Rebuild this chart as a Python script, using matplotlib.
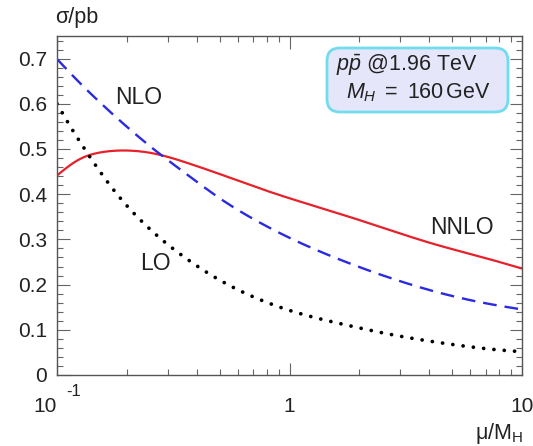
import numpy as np
import matplotlib
matplotlib.use("Agg")
import matplotlib.pyplot as plt
from matplotlib.ticker import FixedLocator, NullFormatter, MultipleLocator
from matplotlib.patches import FancyBboxPatch

plt.rcParams['font.family'] = ['Liberation Sans', 'DejaVu Sans']
plt.rcParams['mathtext.fontset'] = 'custom'
plt.rcParams['mathtext.rm'] = 'Liberation Sans'
plt.rcParams['mathtext.it'] = 'Liberation Sans:italic'
plt.rcParams['mathtext.bf'] = 'Liberation Sans:bold'

# scale ratio mu/M_H and cross sections (pb)
mu_nnlo = [0.1, 0.1236, 0.156, 0.196, 0.264, 0.367, 0.511, 0.711, 1.0, 1.57, 2.58, 4.23, 6.93, 10.0]
nnlo = [0.4415, 0.476, 0.493, 0.4967, 0.4895, 0.4685, 0.443, 0.4165, 0.391, 0.360, 0.324, 0.289, 0.259, 0.2355]

mu_nlo = [0.1, 0.119, 0.161, 0.213, 0.264, 0.367, 0.511, 0.711, 1.0, 1.57, 2.58, 4.23, 6.93, 10.0]
nlo = [0.699, 0.658, 0.5925, 0.5368, 0.4973, 0.4415, 0.388, 0.343, 0.3035, 0.2595, 0.2185, 0.1845, 0.159, 0.145]

mu_lo = [0.1, 0.1175, 0.132, 0.158, 0.19, 0.22, 0.28, 0.356, 0.463, 0.612, 0.824, 1.0, 1.65, 2.75, 4.67, 7.9, 10.0]
lo = [0.600, 0.5391, 0.4986, 0.4401, 0.3873, 0.3514, 0.3010, 0.2594, 0.2203, 0.1864, 0.1580, 0.1429,
      0.1137, 0.0893, 0.0698, 0.0556, 0.0515]

ytick_vals = [0, 0.1, 0.2, 0.3, 0.4, 0.5, 0.6, 0.7]
ytick_labels = ['0', '0.1', '0.2', '0.3', '0.4', '0.5', '0.6', '0.7']
xtick_vals = [0.1, 1, 10]
xtick_labels = ['10', '1', '10']


def smooth(xs, ys, n=400):
    """Natural cubic spline through the points, in log10(x)."""
    t = np.log10(np.asarray(xs, float))
    y = np.asarray(ys, float)
    k = len(t)
    h = np.diff(t)
    A = np.zeros((k, k)); r = np.zeros(k)
    A[0, 0] = 1; A[-1, -1] = 1
    for i in range(1, k - 1):
        A[i, i - 1] = h[i - 1]
        A[i, i] = 2 * (h[i - 1] + h[i])
        A[i, i + 1] = h[i]
        r[i] = 6 * ((y[i + 1] - y[i]) / h[i] - (y[i] - y[i - 1]) / h[i - 1])
    M = np.linalg.solve(A, r)
    g = np.linspace(t[0], t[-1], n)
    idx = np.clip(np.searchsorted(t, g) - 1, 0, k - 2)
    a = t[idx + 1] - g; b = g - t[idx]; hi = h[idx]
    out = (M[idx] * a**3 + M[idx + 1] * b**3) / (6 * hi) \
        + (y[idx] / hi - M[idx] * hi / 6) * a + (y[idx + 1] / hi - M[idx + 1] * hi / 6) * b
    return 10**g, out


W, H = 533, 446
fig = plt.figure(figsize=(W / 100, H / 100), dpi=100)
L, R, B, T = 57, 522, 375, 36
ax = fig.add_axes([L / W, 1 - B / H, (R - L) / W, (B - T) / H])

x, y = smooth(mu_nnlo, nnlo)
ax.plot(x, y, color='#e8202a', lw=1.6)
x, y = smooth(mu_nlo, nlo)
ax.plot(x, y, color='#2a2ae0', lw=1.7, dashes=(5.8, 3.4))
x, y = smooth(mu_lo, lo)
ax.plot(x, y, color='black', lw=2.7, linestyle=(0, (0.01, 2.75)), dash_capstyle='round')

ax.set_xscale('log')
ax.set_xlim(0.1, 10)
ax.set_ylim(0, 0.75)

ax.xaxis.set_major_locator(FixedLocator(xtick_vals))
ax.set_xticklabels(xtick_labels)
ax.xaxis.set_minor_locator(FixedLocator([k * 10.0**e for e in (-1, 0) for k in range(2, 10)]))
ax.xaxis.set_minor_formatter(NullFormatter())
ax.set_yticks(ytick_vals)
ax.set_yticklabels(ytick_labels)
ax.yaxis.set_minor_locator(MultipleLocator(0.02))

ax.tick_params(which='both', direction='in', top=True, right=True, color='#666666', labelsize=15,
               labelcolor='#222222')
ax.tick_params(which='major', length=9, width=0.8)
ax.tick_params(which='minor', length=4.5, width=0.8)
ax.tick_params(axis='x', which='major', pad=16)
ax.tick_params(axis='y', which='major', pad=7)
ax.xaxis.get_major_ticks()[0].label1.set_horizontalalignment('right')
for s in ax.spines.values():
    s.set_color('#555555')
    s.set_linewidth(1.0)

fig.text(55 / W, 1 - 18 / H, '\u03c3/pb', fontsize=15.5, ha='left', va='center', color='#222222')
fig.text(523 / W, 1 - 433 / H, '\u03bc/M$_\\mathregular{H}$', fontsize=15.5, ha='right', va='center',
         color='#222222')
fig.text(66 / W, 1 - 391 / H, '-1', fontsize=12, ha='left', va='center', color='#222222')

ax.text(0.2254, 0.615, 'NLO', fontsize=16.5, ha='center', va='center', color='#222222')
ax.text(0.2638, 0.246, 'LO', fontsize=16.5, ha='center', va='center', color='#222222')
ax.text(5.50, 0.3256, 'NNLO', fontsize=16.5, ha='center', va='center', color='#222222')

# info box
bx0, bx1, by0, by1 = 327, 508, 48, 112
box = FancyBboxPatch((bx0 / W, 1 - by1 / H), (bx1 - bx0) / W, (by1 - by0) / H,
                     transform=fig.transFigure, mutation_aspect=W / H,
                     boxstyle='round,pad=0,rounding_size=0.024', facecolor='#e6e6fa',
                     edgecolor='#72dcef', linewidth=2.0, zorder=5)
fig.patches.append(box)
fig.text(477 / W, 1 - 65 / H, r'$p\bar{p}$ @1.96 TeV', fontsize=15.5, ha='right', va='center', zorder=6,
         color='#222222')
fig.text(491 / W, 1 - 93 / H, r'$M_H\ =\ 160\,$GeV', fontsize=15.5, ha='right', va='center', zorder=6,
         color='#222222')

fig.savefig('out.png', dpi=100)
